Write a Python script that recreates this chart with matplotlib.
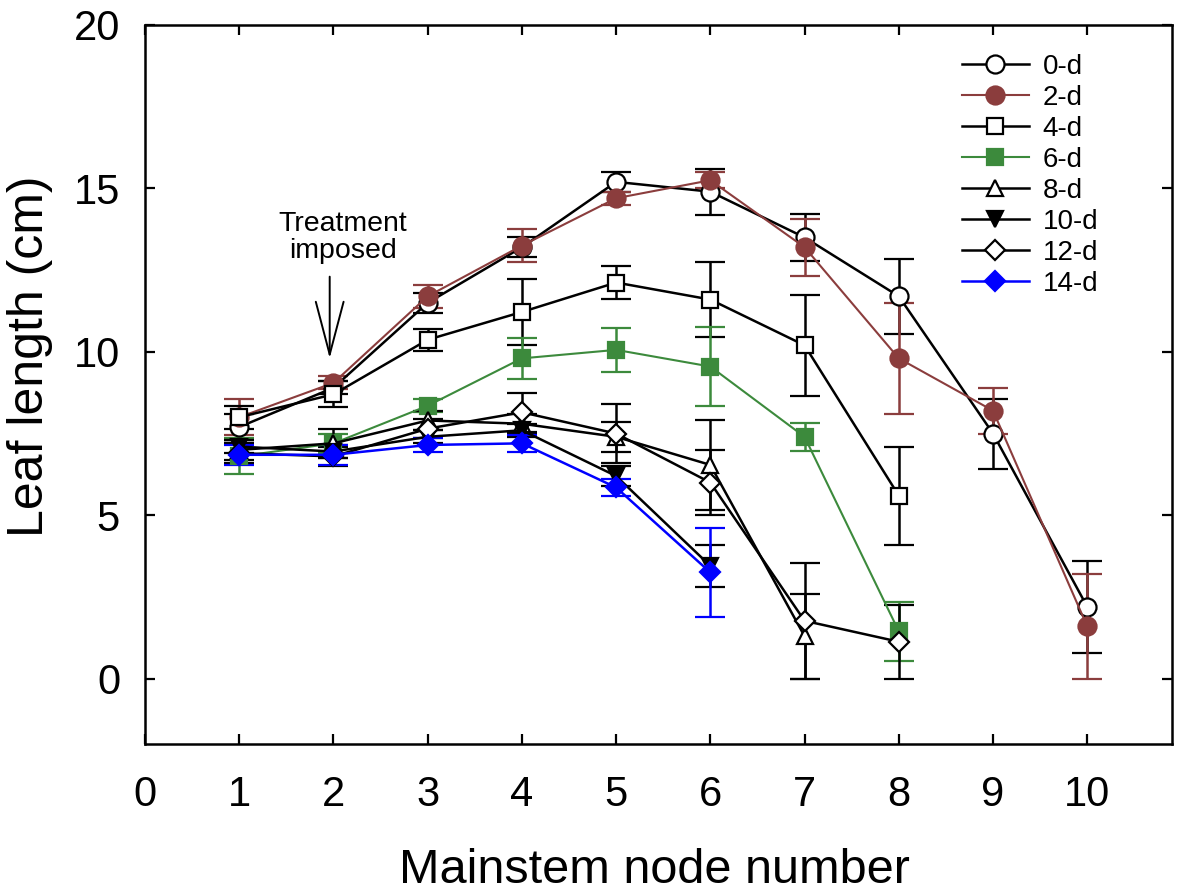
import numpy as np
import matplotlib
matplotlib.use("Agg")
from matplotlib import pyplot as plt

plt.rcParams['font.family'] = ['Liberation Sans', 'DejaVu Sans']

nan = np.nan
nodes = np.arange(1, 11)

# leaf length (cm) per treatment
d0 = [7.7, 8.9, 11.5, 13.2, 15.2, 14.9, 13.5, 11.7, 7.5, 2.2]
d0_err = [0.4, 0.2, 0.3, 0.3, 0.3, 0.7, 0.72, 1.15, 1.07, 1.4]
d2 = [8.0, 9.05, 11.7, 13.25, 14.7, 15.25, 13.2, 9.8, 8.2, 1.6]
d2_err = [0.55, 0.2, 0.35, 0.5, 0.2, 0.25, 0.87, 1.7, 0.7, 1.6]
d4 = [8.0, 8.7, 10.37, 11.22, 12.12, 11.6, 10.2, 5.6, nan, nan]
d4_err = [0.35, 0.4, 0.33, 1.0, 0.5, 1.15, 1.55, 1.5, nan, nan]
d6 = [6.8, 7.2, 8.35, 9.8, 10.06, 9.55, 7.4, 1.45, nan, nan]
d6_err = [0.55, 0.3, 0.2, 0.63, 0.68, 1.2, 0.43, 0.9, nan, nan]
d8 = [7.0, 7.2, 7.9, 7.8, 7.4, 6.54, 1.3, nan, nan, nan]
d8_err = [0.3, 0.45, 0.3, 0.3, 0.45, 1.38, 1.3, nan, nan, nan]
d10 = [7.1, 6.95, 7.4, 7.6, 6.2, 3.45, nan, nan, nan, nan]
d10_err = [0.2, 0.2, 0.2, 0.2, 0.3, 0.65, nan, nan, nan, nan]
d12 = [6.9, 6.8, 7.65, 8.15, 7.5, 6.0, 1.77, 1.13, nan, nan]
d12_err = [0.3, 0.3, 0.3, 0.6, 0.9, 1.0, 1.77, 1.13, nan, nan]
d14 = [6.85, 6.85, 7.15, 7.2, 5.85, 3.25, nan, nan, nan, nan]
d14_err = [0.3, 0.3, 0.2, 0.25, 0.27, 1.35, nan, nan, nan, nan]

labels = ['0-d', '2-d', '4-d', '6-d', '8-d', '10-d', '12-d', '14-d']
BROWN = '#8B3D3D'
GREEN = '#3C8A3C'
BLUE = '#0000FF'

# (values, errors, colour, marker, filled, markersize, linewidth)
series = [
    (d0, d0_err, 'black', 'o', False, 13, 1.8),
    (d2, d2_err, BROWN, 'o', True, 13, 1.5),
    (d4, d4_err, 'black', 's', False, 11, 1.8),
    (d6, d6_err, GREEN, 's', True, 11, 1.5),
    (d8, d8_err, 'black', '^', False, 12, 1.8),
    (d10, d10_err, 'black', 'v', True, 12, 1.8),
    (d12, d12_err, 'black', 'D', False, 10, 1.8),
    (d14, d14_err, BLUE, 'D', True, 10, 1.8),
]

fig = plt.figure(figsize=(11.81, 8.96), dpi=100)
ax = fig.add_axes([0.1228, 0.1696, 0.8696, 0.8025])

handles = []
for (vals, errs, col, mk, filled, ms, lw), lab in zip(series, labels):
    cont = ax.errorbar(nodes, vals, yerr=errs, color=col, ecolor=col, marker=mk,
                       markersize=ms, markerfacecolor=col if filled else 'white',
                       markeredgecolor=col, markeredgewidth=1.6, linewidth=lw,
                       elinewidth=1.8, capsize=11, capthick=1.8, label=lab)
    handles.append(cont[0])

ax.annotate('', xy=(1.96, 9.8), xytext=(1.96, 12.3),
            arrowprops=dict(arrowstyle='->, head_length=1.9, head_width=0.5',
                            color='black', lw=1.4, mutation_scale=20,
                            shrinkA=0, shrinkB=0))
ax.text(2.1, 13.5, 'Treatment\nimposed', ha='center', va='center',
        fontsize=20.5, linespacing=1.05)

ax.set_xlim(0, 10.9)
ax.set_ylim(-2, 20)
ax.set_xticks(range(0, 11))
ax.set_yticks([0, 5, 10, 15, 20])
ax.tick_params(direction='in', length=7, width=1.6, labelsize=30,
               top=True, right=True)
ax.tick_params(axis='x', pad=22)
ax.tick_params(axis='y', pad=18)
for sp in ax.spines.values():
    sp.set_linewidth(1.8)

ax.set_xlabel('Mainstem node number', fontsize=35)
ax.set_ylabel('Leaf length (cm)', fontsize=36)
ax.xaxis.set_label_coords(0.496, -0.145)
ax.yaxis.set_label_coords(-0.09, 0.54)

ax.legend(handles, labels, loc='upper right', bbox_to_anchor=(0.939, 0.975),
          frameon=False, fontsize=20, handlelength=2.4, handletextpad=0.5,
          labelspacing=0.18, borderaxespad=0)

plt.savefig('out.png', dpi=100)
